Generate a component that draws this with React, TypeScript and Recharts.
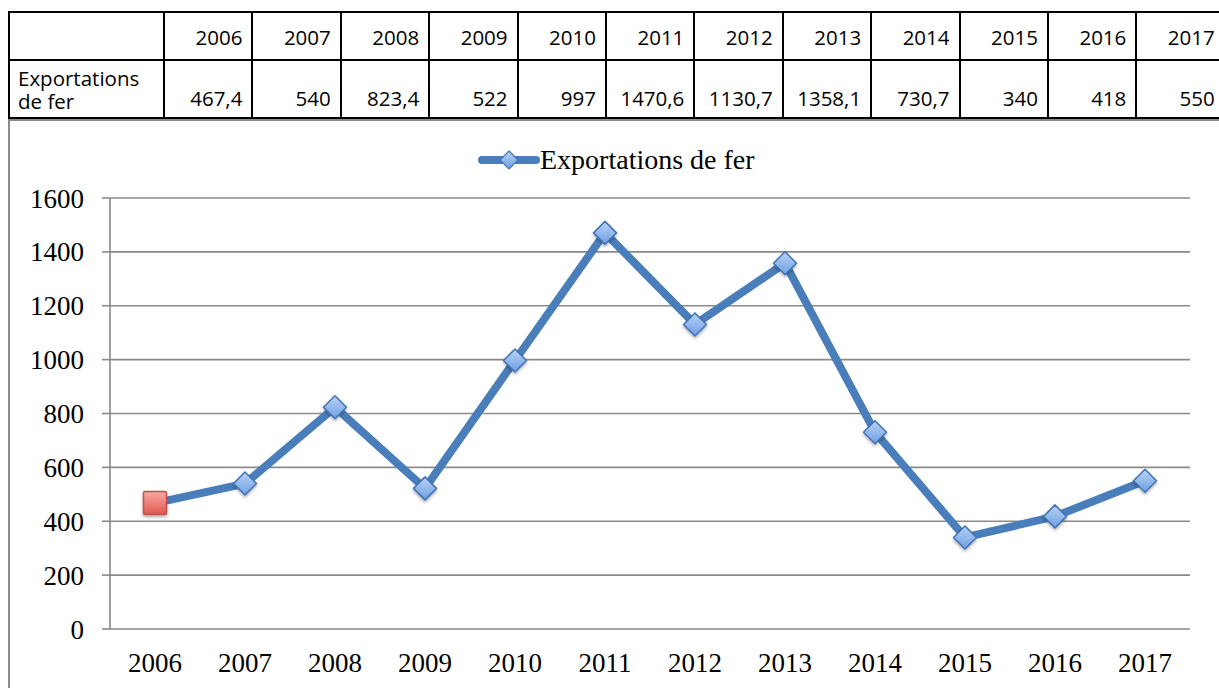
import React from 'react';
import { LineChart, Line, XAxis, YAxis, CartesianGrid, Legend } from 'recharts';

const years = ['2006', '2007', '2008', '2009', '2010', '2011', '2012', '2013', '2014', '2015', '2016', '2017'];
const values = [467.4, 540, 823.4, 522, 997, 1470.6, 1130.7, 1358.1, 730.7, 340, 418, 550];
const yTicks = [0, 200, 400, 600, 800, 1000, 1200, 1400, 1600];
const seriesName = 'Exportations de fer';

const data = years.map((y, i) => ({ idx: i, year: y, value: values[i] }));
const labelTicks = years.map((_, i) => i);
const boundaryTicks = [...years.map((_, i) => i - 0.5), years.length - 0.5];

const LINE = '#4a7ebb';
const GRID = '#8a8a8a';
const SERIF = '"Liberation Serif", "Times New Roman", serif';
const SANS = '"Open Sans", "Noto Sans", sans-serif';

const fmt = (v: number) => String(v).replace('.', ',');

const Marker = (props: any) => {
  const { cx, cy, index } = props;
  if (cx == null || cy == null) return null;
  if (index === 0) {
    const s = 11.5;
    return (
      <g key={`m${index}`} filter="url(#mshadow)">
        <rect x={cx - s} y={cy - s} width={2 * s} height={2 * s} fill="url(#redGrad)" stroke="#c0504d" strokeWidth={1.5} rx={1.5} />
      </g>
    );
  }
  const h = 11.5;
  return (
    <g key={`m${index}`} filter="url(#mshadow)">
      <path
        d={`M${cx},${cy - h} L${cx + h},${cy} L${cx},${cy + h} L${cx - h},${cy} Z`}
        fill="url(#blueGrad)"
        stroke="#3f72b5"
        strokeWidth={1.5}
        strokeLinejoin="round"
      />
    </g>
  );
};

const LegendContent = () => (
  <div style={{ display: 'flex', alignItems: 'center', whiteSpace: 'nowrap' }}>
    <svg width={62} height={30} style={{ display: 'block' }}>
      <defs>
        <linearGradient id="blueGradL" x1="0" y1="0" x2="0" y2="1">
          <stop offset="0%" stopColor="#b9d3f7" />
          <stop offset="100%" stopColor="#6f9fe2" />
        </linearGradient>
      </defs>
      <line x1={4} y1={15} x2={58} y2={15} stroke={LINE} strokeWidth={8} strokeLinecap="round" />
      <path d="M31,6 L40,15 L31,24 L22,15 Z" fill="url(#blueGradL)" stroke="#3f72b5" strokeWidth={1.2} />
    </svg>
    <span style={{ fontFamily: SERIF, fontSize: 28, color: '#000', lineHeight: '30px' }}>{seriesName}</span>
  </div>
);

export default function App() {
  const colW = 88.4;
  const cellBorder = '2px solid #000';
  const numCell: React.CSSProperties = {
    border: cellBorder,
    textAlign: 'right',
    verticalAlign: 'bottom',
    paddingRight: 9,
    paddingLeft: 0,
    fontFamily: SANS,
    fontSize: 20.5,
    lineHeight: '24px',
    color: '#000',
    whiteSpace: 'nowrap',
  };
  return (
    <div style={{ position: 'absolute', left: 0, top: 0, width: 1219, height: 688, overflow: 'hidden', background: '#fff' }}>
      <div
        style={{
          position: 'absolute',
          left: 8,
          top: 119,
          width: 1400,
          height: 800,
          borderLeft: `2px solid ${GRID}`,
          borderTop: `2px solid ${GRID}`,
        }}
      />
      <div style={{ position: 'absolute', left: 0, top: 0 }}>
        <LineChart width={1219} height={688} data={data} margin={{ top: 198, right: 29, bottom: 9, left: 10 }}>
          <defs>
            <linearGradient id="blueGrad" x1="0" y1="0" x2="0" y2="1">
              <stop offset="0%" stopColor="#b9d3f7" />
              <stop offset="100%" stopColor="#6f9fe2" />
            </linearGradient>
            <linearGradient id="redGrad" x1="0" y1="0" x2="0" y2="1">
              <stop offset="0%" stopColor="#f9aaa4" />
              <stop offset="100%" stopColor="#e0574f" />
            </linearGradient>
            <filter id="mshadow" x="-50%" y="-50%" width="200%" height="200%">
              <feDropShadow dx={0} dy={2} stdDeviation={1.5} floodColor="#000" floodOpacity={0.3} />
            </filter>
          </defs>
          <CartesianGrid xAxisId="lab" horizontal vertical={false} stroke={GRID} strokeWidth={1.6} />
          <XAxis
            xAxisId="bnd"
            type="number"
            dataKey="idx"
            domain={[-0.5, years.length - 0.5]}
            ticks={boundaryTicks}
            tickFormatter={() => ''}
            height={0}
            tickSize={8}
            axisLine={{ stroke: GRID, strokeWidth: 1.6 }}
            tickLine={{ stroke: GRID, strokeWidth: 1.6 }}
            allowDataOverflow
          />
          <XAxis
            xAxisId="lab"
            type="number"
            dataKey="idx"
            domain={[-0.5, years.length - 0.5]}
            ticks={labelTicks}
            tickFormatter={(v: number) => years[v] ?? ''}
            interval={0}
            height={50}
            tickSize={0}
            tickMargin={24}
            axisLine={false}
            tickLine={false}
            tick={{ fill: '#000', fontFamily: SERIF, fontSize: 27 }}
            allowDataOverflow
          />
          <YAxis
            type="number"
            domain={[0, 1600]}
            ticks={yTicks}
            interval={0}
            width={100}
            tickSize={8}
            tickMargin={18}
            axisLine={{ stroke: GRID, strokeWidth: 1.6 }}
            tickLine={{ stroke: GRID, strokeWidth: 1.6 }}
            tick={{ fill: '#000', fontFamily: SERIF, fontSize: 27 }}
          />
          <Legend
            verticalAlign="middle"
            align="center"
            layout="horizontal"
            wrapperStyle={{ position: 'absolute', top: 145, left: 478, width: 330, height: 30 }}
            content={() => <LegendContent />}
          />
          <Line
            xAxisId="lab"
            type="linear"
            dataKey="value"
            name={seriesName}
            stroke={LINE}
            strokeWidth={8}
            strokeLinejoin="round"
            strokeLinecap="round"
            dot={<Marker />}
            activeDot={false}
            isAnimationActive={false}
          />
        </LineChart>
      </div>
      <table
        style={{
          position: 'absolute',
          left: 8,
          top: 11,
          borderCollapse: 'collapse',
          tableLayout: 'fixed',
          width: 155 + colW * years.length,
          background: '#fff',
        }}
      >
        <colgroup>
          <col style={{ width: 155 }} />
          {years.map((y) => (
            <col key={y} style={{ width: colW }} />
          ))}
        </colgroup>
        <tbody>
          <tr style={{ height: 48 }}>
            <td style={{ border: cellBorder }} />
            {years.map((y) => (
              <td key={y} style={{ ...numCell, paddingBottom: 10 }}>
                {y}
              </td>
            ))}
          </tr>
          <tr style={{ height: 58 }}>
            <td
              style={{
                border: cellBorder,
                fontFamily: SANS,
                fontSize: 20.5,
                lineHeight: '23px',
                paddingLeft: 8,
                paddingRight: 24,
                verticalAlign: 'bottom',
                paddingBottom: 4,
                color: '#000',
              }}
            >
              {seriesName}
            </td>
            {values.map((v, i) => (
              <td key={years[i]} style={{ ...numCell, paddingBottom: 7 }}>
                {fmt(v)}
              </td>
            ))}
          </tr>
        </tbody>
      </table>
    </div>
  );
}
